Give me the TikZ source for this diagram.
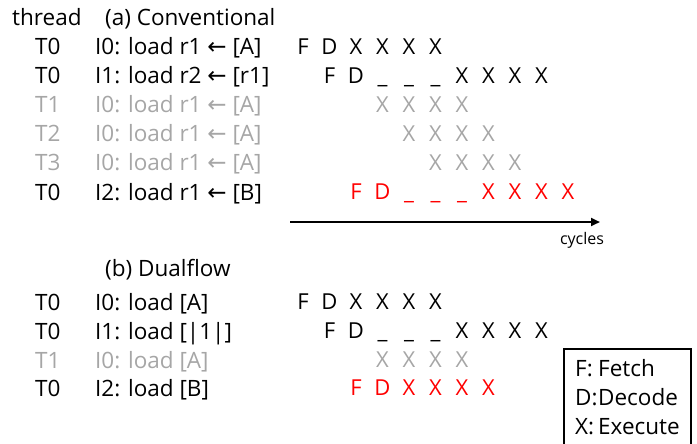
\documentclass[tikz,border=0pt]{standalone}
\usepackage{fontspec}
\usetikzlibrary{arrows.meta}
\setmainfont{Open Sans}
\newfontfamily\arrowfont{DejaVu Sans}
\definecolor{fadedtext}{RGB}{166,166,166}
\definecolor{hottext}{RGB}{255,0,0}

% one pipeline row: name, y, colour, list of column/letter
\newcommand{\pipeline}[4]{%
  \foreach \c/\l in {#4}
    \node[cell,text=#3] (#1-\c) at ({303+26.5*\c},#2) {\l};}
% left arrow used in the register transfers
\newcommand{\loadarrow}{{\arrowfont\fontsize{23}{25}\selectfont ←}}

\begin{document}
\begin{tikzpicture}[x=1pt,y=-1pt,
  label/.style={font=\fontsize{22.5}{25}\selectfont, inner sep=0pt,
    text height=16pt, text depth=0pt, anchor=west},
  cell/.style={font=\fontsize{22}{25}\selectfont, inner sep=0pt,
    text height=15.6pt, text depth=0pt, anchor=center},
  faded/.style={text=fadedtext},
  small/.style={font=\fontsize{16}{18}\selectfont, inner sep=0pt}]
\useasboundingbox (0,0) rectangle (697,444);

% ---------- (a) conventional ----------
\node[label] (hdr-thread) at (12,18) {thread};
\node[label] (hdr-a) at (105,18) {(a) Conventional};

\node[label] (ta1) at (35,47) {T0};
\node[label] (ia1) at (95,47) {I0: load r1 \loadarrow{} [A]};
\node[label] (ta2) at (35,76) {T0};
\node[label] (ia2) at (95,76) {I1: load r2 \loadarrow{} [r1]};
\node[label,faded] (ta3) at (35,105) {T1};
\node[label,faded] (ia3) at (95,105) {I0: load r1 \loadarrow{} [A]};
\node[label,faded] (ta4) at (35,134) {T2};
\node[label,faded] (ia4) at (95,134) {I0: load r1 \loadarrow{} [A]};
\node[label,faded] (ta5) at (35,163) {T3};
\node[label,faded] (ia5) at (95,163) {I0: load r1 \loadarrow{} [A]};
\node[label] (ta6) at (35,192) {T0};
\node[label] (ia6) at (95,192) {I2: load r1 \loadarrow{} [B]};

\pipeline{pa1}{47}{black}{0/F,1/D,2/X,3/X,4/X,5/X}
\pipeline{pa2}{76}{black}{1/F,2/D,3/\_,4/\_,5/\_,6/X,7/X,8/X,9/X}
\pipeline{pa3}{105}{fadedtext}{3/X,4/X,5/X,6/X}
\pipeline{pa4}{134}{fadedtext}{4/X,5/X,6/X,7/X}
\pipeline{pa5}{163}{fadedtext}{5/X,6/X,7/X,8/X}
\pipeline{pa6}{192}{hottext}{2/F,3/D,4/\_,5/\_,6/\_,7/X,8/X,9/X,10/X}

% time axis
\coordinate (axis-start) at (290,222);
\coordinate (axis-end) at (600,222);
\draw[line width=2.6pt,-{Triangle[length=9pt,width=8pt]}] (axis-start) -- (axis-end);
\node[small] (axis-label) at (582,240) {cycles};

% ---------- (b) dualflow ----------
\node[label] (hdr-b) at (105,268) {(b) Dualflow};

\node[label] (tb1) at (35,302) {T0};
\node[label] (ib1) at (95,302) {I0: load [A]};
\node[label] (tb2) at (35,331) {T0};
\node[label] (ib2) at (95,331) {I1: load [|1|]};
\node[label,faded] (tb3) at (35,360) {T1};
\node[label,faded] (ib3) at (95,360) {I0: load [A]};
\node[label] (tb4) at (35,388) {T0};
\node[label] (ib4) at (95,388) {I2: load [B]};

\pipeline{pb1}{302}{black}{0/F,1/D,2/X,3/X,4/X,5/X}
\pipeline{pb2}{331}{black}{1/F,2/D,3/\_,4/\_,5/\_,6/X,7/X,8/X,9/X}
\pipeline{pb3}{360}{fadedtext}{3/X,4/X,5/X,6/X}
\pipeline{pb4}{388}{hottext}{2/F,3/D,4/X,5/X,6/X,7/X}

% ---------- legend ----------
\node[draw,line width=1.3pt,inner sep=0pt,minimum width=127pt,
  minimum height=104pt] (legend) at (627.5,401) {};
\node[label] (lg-f) at (575,368) {F:};
\node[label] (lg-fetch) at (598,368) {Fetch};
\node[label] (lg-d) at (575,397) {D:};
\node[label] (lg-decode) at (598,397) {Decode};
\node[label] (lg-x) at (575,426) {X:};
\node[label] (lg-exec) at (598,426) {Execute};
\end{tikzpicture}
\end{document}
